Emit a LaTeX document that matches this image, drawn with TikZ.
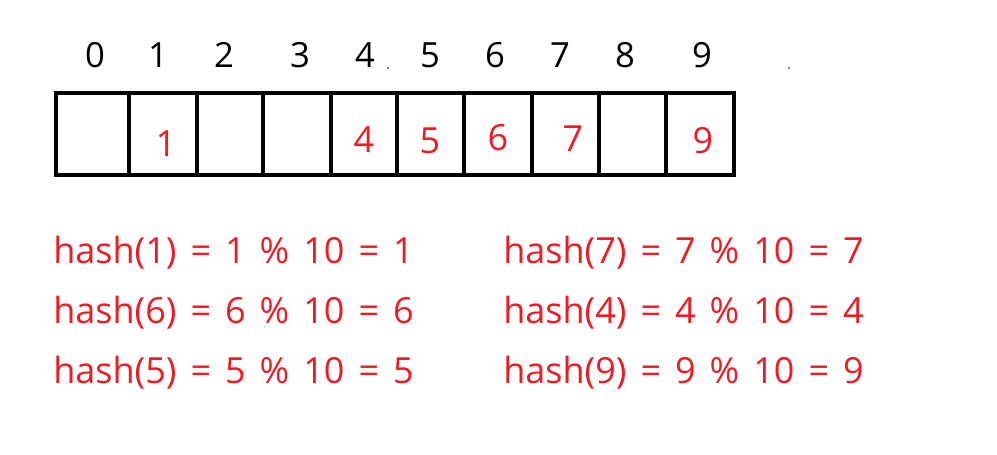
\documentclass[tikz,border=0pt]{standalone}
\usepackage{fontspec}
\setmainfont{Open Sans}
\definecolor{hred}{RGB}{236,28,36}
\newcommand\myhashfont{\fontsize{27}{30}\selectfont\spaceskip=10.5pt\relax}
\begin{document}
\begin{tikzpicture}[x=0.75pt,y=-0.75pt,
  cellbox/.style={draw=black,line width=3pt,minimum height=61.5pt,inner sep=0pt,outer sep=0pt,anchor=north west},
  idx/.style={font=\fontsize{26}{30}\selectfont,inner sep=0pt},
  val/.style={font=\fontsize{27}{30}\selectfont,text=hred,inner sep=0pt},
  hashtxt/.style={font=\myhashfont,text=hred,inner sep=0pt,anchor=base west}]
\useasboundingbox[fill=white] (0,0) rectangle (997,454);
% cells
\node[cellbox,minimum width=54.75pt] (c0) at (56,93) {};
\node[cellbox,minimum width=51pt] (c1) at (129,93) {};
\node[cellbox,minimum width=49.5pt] (c2) at (197,93) {};
\node[cellbox,minimum width=51pt] (c3) at (263,93) {};
\node[cellbox,minimum width=49.5pt] (c4) at (331,93) {};
\node[cellbox,minimum width=50.25pt] (c5) at (397,93) {};
\node[cellbox,minimum width=51pt] (c6) at (464,93) {};
\node[cellbox,minimum width=50.25pt] (c7) at (532,93) {};
\node[cellbox,minimum width=50.25pt] (c8) at (599,93) {};
\node[cellbox,minimum width=51pt] (c9) at (666,93) {};
% index labels
\node[idx] (i0) at (95,55) {0};
\node[idx] (i1) at (158,55) {1};
\node[idx] (i2) at (224,55) {2};
\node[idx] (i3) at (300,55) {3};
\node[idx] (i4) at (365,55) {4};
\node[idx] (i5) at (430,55) {5};
\node[idx] (i6) at (495,55) {6};
\node[idx] (i7) at (560,55) {7};
\node[idx] (i8) at (625,55) {8};
\node[idx] (i9) at (702,55) {9};
\fill (388,68) circle (0.6pt);
\fill (789,68) circle (0.6pt);
% values
\node[val] (v1) at (166,144) {1};
\node[val] (v4) at (364,140) {4};
\node[val] (v5) at (430,141) {5};
\node[val] (v6) at (498,138) {6};
\node[val] (v7) at (573,139) {7};
\node[val] (v9) at (703,141) {9};
% hash lines
\node[hashtxt] (h1) at (53,263) {hash(1) = 1 \% 10 = 1};
\node[hashtxt] (h6) at (53,323) {hash(6) = 6 \% 10 = 6};
\node[hashtxt] (h5) at (53,383) {hash(5) = 5 \% 10 = 5};
\node[hashtxt] (h7) at (503,263) {hash(7) = 7 \% 10 = 7};
\node[hashtxt] (h4) at (503,323) {hash(4) = 4 \% 10 = 4};
\node[hashtxt] (h9) at (503,383) {hash(9) = 9 \% 10 = 9};
\end{tikzpicture}
\end{document}
